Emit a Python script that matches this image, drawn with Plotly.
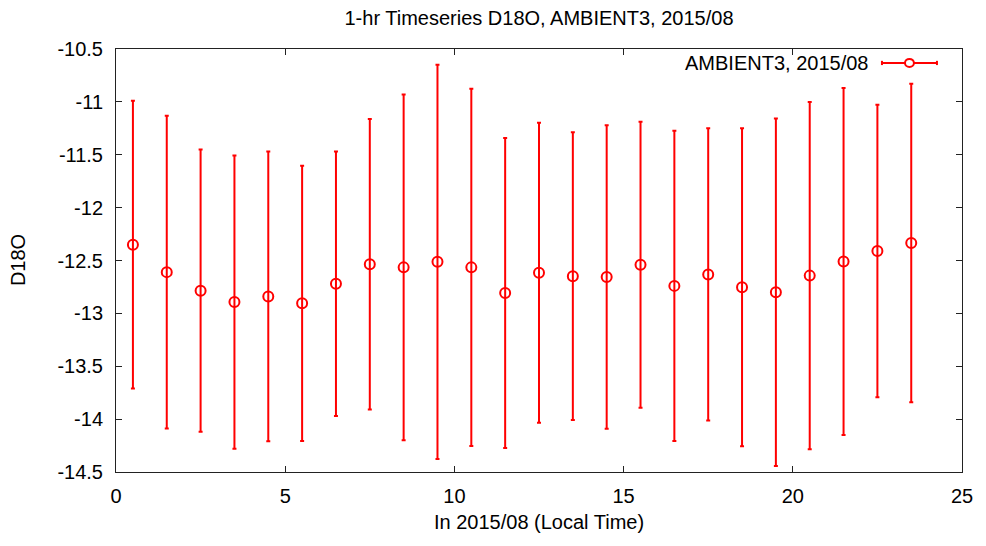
import plotly.graph_objects as go

# Data
hours = [0.5, 1.5, 2.5, 3.5, 4.5, 5.5, 6.5, 7.5, 8.5, 9.5, 10.5, 11.5,
         12.5, 13.5, 14.5, 15.5, 16.5, 17.5, 18.5, 19.5, 20.5, 21.5, 22.5, 23.5]
d18o_mean = [-12.35, -12.61, -12.785, -12.893, -12.84, -12.905, -12.72, -12.536,
             -12.565, -12.512, -12.565, -12.807, -12.616, -12.648, -12.657, -12.54,
             -12.74, -12.632, -12.753, -12.80, -12.643, -12.509, -12.41, -12.334]
d18o_std = [1.36, 1.478, 1.334, 1.387, 1.37, 1.301, 1.25, 1.374,
            1.635, 1.864, 1.689, 1.465, 1.419, 1.36, 1.435, 1.353,
            1.467, 1.382, 1.503, 1.643, 1.642, 1.64, 1.383, 1.506]

x_tickvals = [0, 5, 10, 15, 20, 25]
x_ticktext = ["0", "5", "10", "15", "20", "25"]
y_tickvals = [-10.5, -11, -11.5, -12, -12.5, -13, -13.5, -14, -14.5]
y_ticktext = ["-10.5", "-11", "-11.5", "-12", "-12.5", "-13", "-13.5", "-14", "-14.5"]

title_text = "1-hr Timeseries D18O, AMBIENT3, 2015/08"
legend_text = "AMBIENT3, 2015/08"
x_title = "In 2015/08 (Local Time)"
y_title = "D18O"

RED = "#ff0000"
FONT = "Liberation Sans, Arial, Helvetica, sans-serif"
FS = 20

# page body has an 8px margin; size the figure so it fits the window
W, H = 978, 538

fig = go.Figure()
fig.add_trace(go.Scatter(
    x=hours, y=d18o_mean, mode="markers", name=legend_text,
    marker=dict(symbol="circle-open", size=10, color=RED, line=dict(width=2, color=RED)),
    error_y=dict(type="data", array=d18o_std, visible=True, color=RED, thickness=2, width=2),
    showlegend=False,
))

# gnuplot-style key: text on the left, sample on the right
fig.add_annotation(xref="paper", yref="paper", x=0.891, y=0.967, text=legend_text,
                   showarrow=False, xanchor="right", yanchor="middle",
                   font=dict(family=FONT, size=FS, color="black"))
fig.add_shape(type="line", xref="paper", yref="paper", x0=0.9054, x1=0.9704, y0=0.967, y1=0.967,
              line=dict(color=RED, width=2))
for xe in (0.9054, 0.9704):
    fig.add_shape(type="line", xref="paper", yref="paper", x0=xe, x1=xe, y0=0.962, y1=0.972,
                  line=dict(color=RED, width=2))
fig.add_shape(type="circle", xref="paper", yref="paper", x0=0.9326, x1=0.9432, y0=0.9575, y1=0.9765,
              line=dict(color=RED, width=2), fillcolor="white")

# axis titles
fig.add_annotation(xref="paper", yref="paper", x=0.5, y=-50 / 423, text=x_title, showarrow=False,
                   xanchor="center", yanchor="middle", font=dict(family=FONT, size=FS, color="black"))
fig.add_annotation(xref="paper", yref="paper", x=-98 / 846, y=0.501, text=y_title, showarrow=False,
                   textangle=-90, xanchor="center", yanchor="middle",
                   font=dict(family=FONT, size=FS, color="black"))

axis_common = dict(showgrid=False, zeroline=False, showline=True, linecolor="#222222", linewidth=1,
                   mirror="ticks", ticks="inside", ticklen=6, tickcolor="#222222", tickwidth=1,
                   automargin=False, tickfont=dict(family=FONT, size=FS, color="black"))

fig.update_layout(
    width=W, height=H,
    margin=dict(l=108, r=24, t=41, b=74, autoexpand=False),
    paper_bgcolor="white", plot_bgcolor="white",
    font=dict(family=FONT, size=FS, color="black"),
    title=dict(text=title_text, x=(539 - 8) / W, xanchor="center", y=1 - 10 / H, yanchor="middle",
               yref="container", font=dict(family=FONT, size=FS, color="black")),
    xaxis=dict(range=[0, 25], tickvals=x_tickvals, ticktext=x_ticktext,
               ticklabelstandoff=6, **axis_common),
    yaxis=dict(range=[-14.5, -10.5], tickvals=y_tickvals, ticktext=y_ticktext,
               ticklabelstandoff=8, **axis_common),
)

fig.write_html("out.html")
